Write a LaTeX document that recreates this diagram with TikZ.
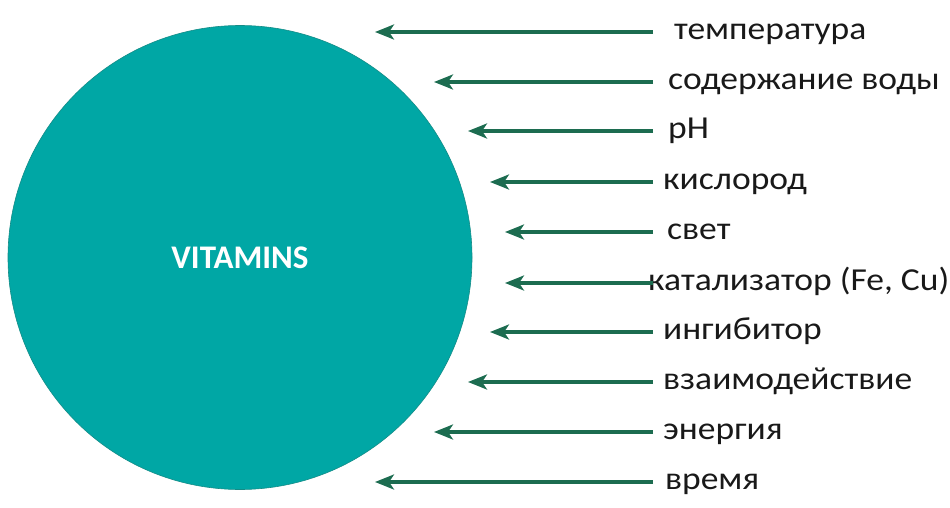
\documentclass[tikz,border=0pt]{standalone}
\usepackage{fontspec}
\setmainfont{Carlito}
\newfontfamily\lblfont[FakeStretch=1.11]{Carlito}
\usetikzlibrary{arrows.meta}
\definecolor{teal1}{RGB}{0,167,165}
\definecolor{tealedge}{RGB}{20,140,135}
\definecolor{arrowgreen}{RGB}{28,108,80}
\tikzset{
  lbl/.style={anchor=base west, inner sep=0pt, font=\lblfont\fontsize{32}{34}\selectfont, text=black!90},
  arr/.style={draw=arrowgreen, line width=3.2pt, -{Stealth[length=19pt,width=15pt,inset=5pt]}}
}
\begin{document}
\begin{tikzpicture}[x=1pt,y=-1pt]
\useasboundingbox (0,0) rectangle (950,508);
\node[circle, fill=teal1, draw=tealedge, line width=0.6pt, minimum size=464pt, inner sep=0pt] (c) at (240,257.5) {};
\node[text=white, font=\bfseries\fontsize{33}{35}\selectfont] (v) at (240,257.5) {VITAMINS};
% labels
\node[lbl] (t1) at (674,39.5) {температура};
\node[lbl] (t2) at (668,89.5) {содержание воды};
\node[lbl] (t3) at (668,138.5) {pH};
\node[lbl] (t4) at (663,189.5) {кислород};
\node[lbl] (t5) at (667,239.5) {свет};
\node[lbl] (t6) at (648,290.5) {катализатор (Fe, Cu)};
\node[lbl] (t7) at (663,339.5) {ингибитор};
\node[lbl] (t8) at (663,389.5) {взаимодействие};
\node[lbl] (t9) at (663,439.5) {энергия};
\node[lbl] (t10) at (665,489.5) {время};
% arrow ends
\coordinate (e1) at (653,32); \coordinate (p1) at (375,32);
\coordinate (e2) at (653,82); \coordinate (p2) at (434,82);
\coordinate (e3) at (653,131); \coordinate (p3) at (468,131);
\coordinate (e4) at (653,182); \coordinate (p4) at (490,182);
\coordinate (e5) at (653,232); \coordinate (p5) at (505,232);
\coordinate (e6) at (653,283); \coordinate (p6) at (505,283);
\coordinate (e7) at (653,332); \coordinate (p7) at (490,332);
\coordinate (e8) at (653,382); \coordinate (p8) at (468,382);
\coordinate (e9) at (653,432); \coordinate (p9) at (434,432);
\coordinate (e10) at (653,482); \coordinate (p10) at (375,482);
\foreach \i in {1,...,10} { \draw[arr] (e\i) -- (p\i); }
\end{tikzpicture}
\end{document}
